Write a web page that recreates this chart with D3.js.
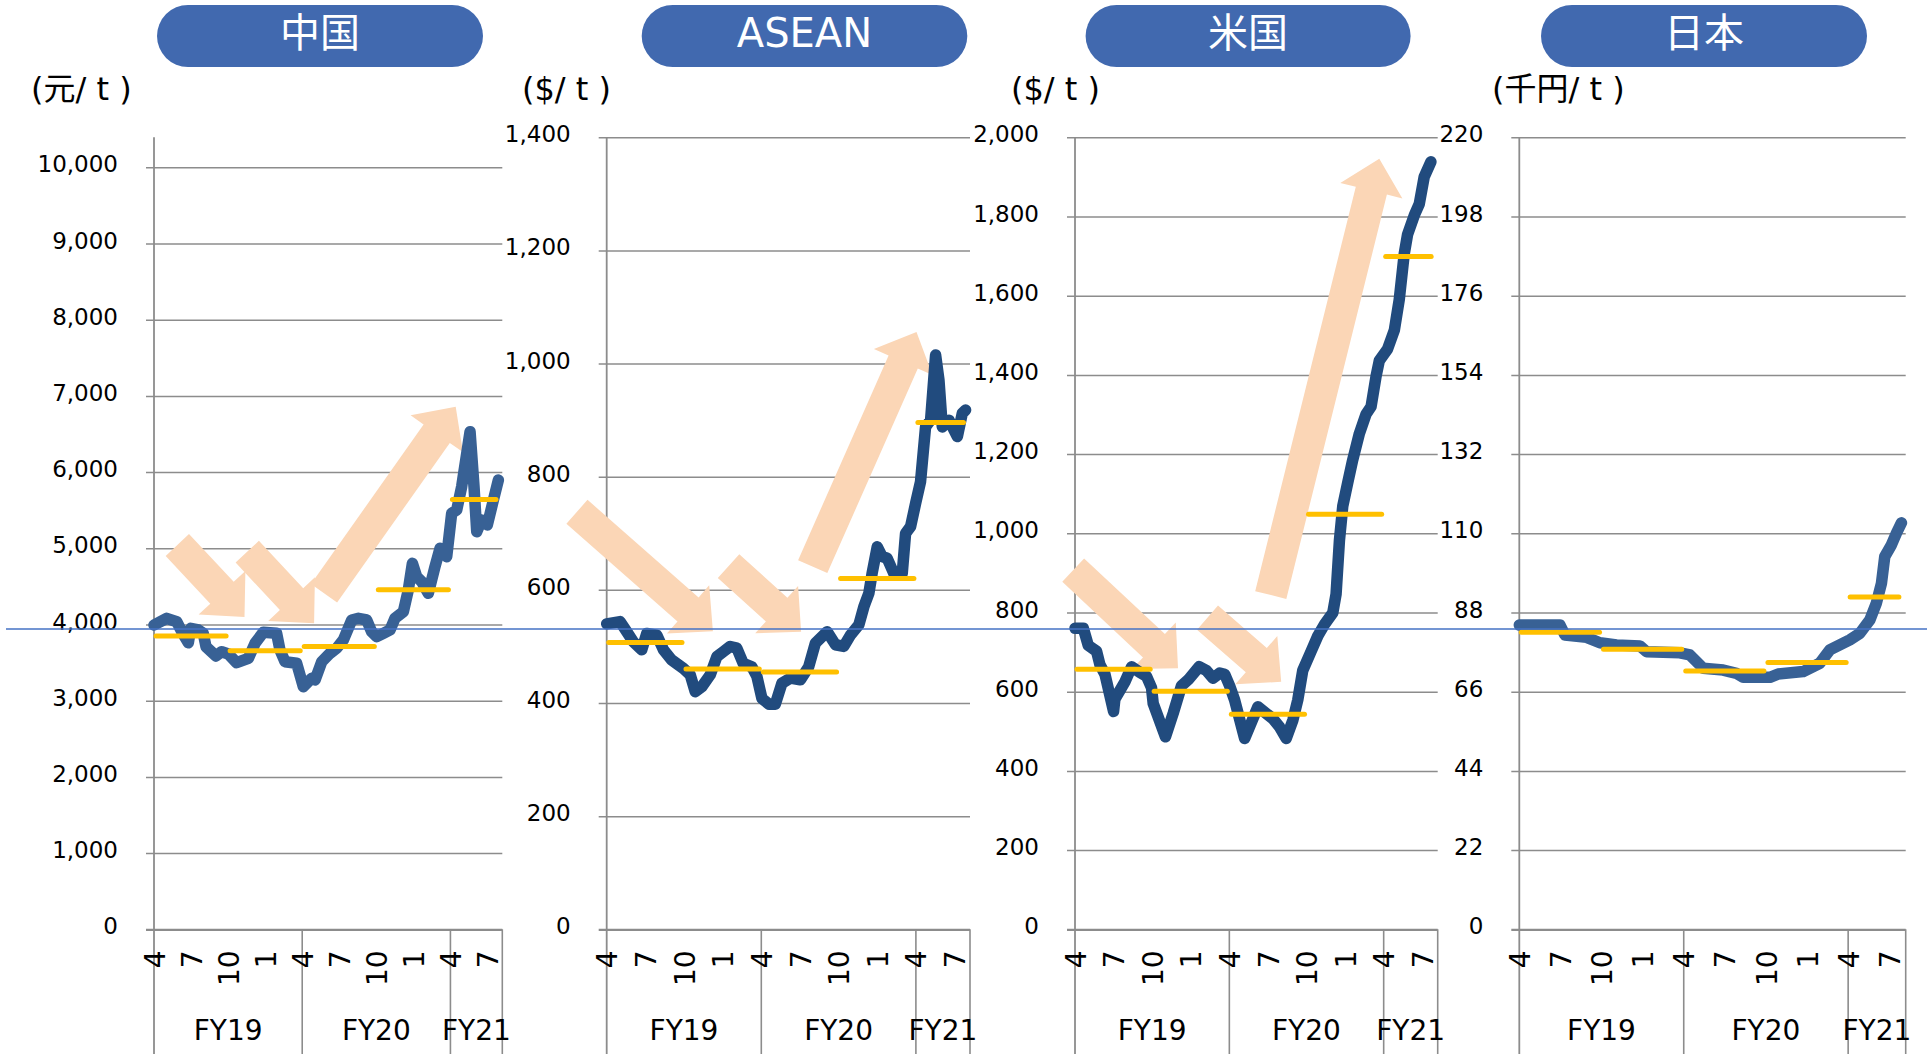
<!DOCTYPE html>
<html>
<head>
<meta charset="utf-8">
<script src="https://cdn.jsdelivr.net/npm/d3@7"></script>
<style>
  html, body { margin: 0; padding: 0; background: #ffffff; }
  svg { display: block; }
</style>
</head>
<body>
<svg id="chart" width="1930" height="1054"></svg>
<script>
// ---- data: [months since April 2019, price] ----
const chinaPrice = [
  [0,3993],[1.03,4081],[1.84,4037],[2.32,3884],[2.78,3761],[2.97,3950],[3.59,3928],[3.99,3884],
  [4.21,3709],[5.02,3587],[5.48,3643],[6.02,3613],[6.69,3499],[7.64,3556],[8.18,3753],[8.85,3898],
  [9.93,3884],[10.2,3665],[10.61,3512],[11.55,3491],[12.09,3184],[12.77,3294],[13.04,3272],[13.58,3512],
  [14.25,3622],[14.79,3688],[15.33,3797],[16.01,4059],[16.55,4081],[17.22,4059],[17.62,3906],[18.03,3840],
  [18.57,3884],[19.11,3928],[19.51,4081],[20.19,4168],[20.59,4453],[20.92,4803],[21.27,4627],[21.67,4562],
  [22.21,4409],[22.75,4759],[23.16,5000],[23.7,4890],[24.1,5459],[24.51,5503],[24.91,5808],[25.59,6530],
  [25.91,5808],[26.13,5218],[26.53,5371],[26.99,5306],[27.48,5634],[27.88,5896]
];
const aseanPrice = [
  [0,540],[1.04,544],[1.56,526],[2.07,508],[2.72,494],[3.11,523],[3.89,520],[4.41,494],[5.05,476],
  [5.96,461],[6.48,450],[6.87,420],[7.39,429],[8.04,450],[8.55,482],[9.07,491],[9.59,500],[10.1,497],
  [10.6,470],[11.27,464],[11.66,447],[12.05,408],[12.6,398],[13.09,398],[13.6,435],[14.26,444],[15.03,441],
  [15.68,464],[16.2,506],[17.11,526],[17.76,503],[18.4,500],[18.92,520],[19.57,538],[19.96,570],[20.35,594],
  [20.6,629],[21.0,676],[21.38,659],[21.77,656],[22.29,629],[22.94,629],[23.2,700],[23.59,712],[23.98,753],
  [24.36,791],[24.75,888],[25.14,900],[25.53,1015],[25.79,971],[26.05,888],[26.57,900],[27.22,871],
  [27.6,912],[27.86,918]
];
const usPrice = [
  [0,760],[0.65,760],[1.03,717],[1.68,702],[1.94,668],[2.33,644],[3.0,550],[3.1,581],[3.88,625],
  [4.4,663],[5.03,649],[5.56,639],[5.95,610],[6.08,570],[7.03,486],[7.63,545],[8.28,615],[8.8,630],
  [9.65,663],[10.2,654],[10.73,634],[11.25,647],[11.64,644],[12.02,615],[12.41,579],[13.19,482],
  [14.22,562],[14.87,545],[15.38,532],[15.9,511],[16.42,482],[16.94,528],[17.32,579],[17.71,654],
  [18.36,702],[18.88,741],[19.4,770],[20.04,799],[20.3,847],[20.56,982],[20.82,1069],[21.2,1127],
  [21.59,1185],[22.11,1252],[22.63,1301],[23.02,1320],[23.41,1397],[23.66,1436],[24.3,1465],[24.83,1513],
  [25.21,1590],[25.6,1706],[25.86,1755],[26.38,1803],[26.77,1832],[27.15,1900],[27.67,1938]
];
const japanPrice = [
  [0,84.5],[2.97,84.5],[3.33,81.75],[4.91,81.1],[5.88,79.6],[7.1,79.0],[8.8,78.7],[9.29,77.1],
  [11.72,76.8],[12.45,76.2],[13.42,72.5],[14.88,72.0],[15.85,71.1],[16.34,70.0],[18.29,70.0],
  [18.89,70.9],[20.72,71.6],[21.93,73.9],[22.66,77.6],[23.39,79.0],[24.12,80.4],[24.85,82.2],
  [25.58,85.9],[26.06,90.6],[26.43,96.1],[26.67,103.5],[27.16,106.8],[27.52,110.0],[27.89,112.9]
];

// half-year averages (1H FY19 ... 1H FY21)
const halfPeriods = [[0,6],[6,12],[12,18],[18,24],[24,27.85]];
const chinaAvg = [3850, 3655, 3710, 4457, 5640];
const aseanAvg = [507, 460, 455, 620, 896];
const usAvg    = [657, 601, 543, 1048, 1699];
const japanAvg = [82.5, 77.8, 71.75, 74.1, 92.3];

// trend arrows: [from, to] as [month, price]
const chinaArrows = [[[1.89,5043],[7.33,4100]], [[7.55,4955],[12.96,4016]], [[13.77,4409],[24.43,6858]]];
const aseanArrows = [[[-2.31,738],[8.24,527]], [[9.46,642],[15.09,526]], [[15.99,641],[24.05,1056]]];
const usArrows    = [[[-0.14,907],[8.01,659]], [[10.3,787],[16.03,625]], [[15.22,844],[23.66,1946]]];

// axis ticks
const chinaTicks = [0,1000,2000,3000,4000,5000,6000,7000,8000,9000,10000];
const aseanTicks = [0,200,400,600,800,1000,1200,1400];
const usTicks    = [0,200,400,600,800,1000,1200,1400,1600,1800,2000];
const japanTicks = [0,22,44,66,88,110,132,154,176,198,220];

const monthTicks  = [0,3,6,9,12,15,18,21,24,27];
const monthLabels = ["4","7","10","1","4","7","10","1","4","7"];
const fyLabels = ["FY19","FY20","FY21"];
const fyBounds = [0,12,24,28.2];
const monthSpan = [0, 28.2];

// ---- layout ----
const FONT = "'DejaVu Sans', 'Noto Sans CJK JP', sans-serif";
const plotTop = 137.3, plotBottom = 929.3, figBottom = 1054;
const gridColor = "#8c8c8c";
const arrowFill = "#fbd6b6";
const avgColor = "#ffc000";

const panels = [
  { title: "中国",  unit: "(元/ t )",  unitX: 31,   pill: [157, 483],     x0: 154,    x1: 502.3,
    yMax: 10000, yTopPx: 167.3, ticks: chinaTicks, series: chinaPrice, avg: chinaAvg, arrows: chinaArrows, color: "#386195" },
  { title: "ASEAN", unit: "($/ t )",  unitX: 522,  pill: [641.7, 967.3], x0: 606.7,  x1: 970,
    yMax: 1400, yTopPx: plotTop, ticks: aseanTicks, series: aseanPrice, avg: aseanAvg, arrows: aseanArrows, color: "#214b7e" },
  { title: "米国",  unit: "($/ t )",  unitX: 1011, pill: [1085.6, 1410.6], x0: 1075, x1: 1437.7,
    yMax: 2000, yTopPx: plotTop, ticks: usTicks, series: usPrice, avg: usAvg, arrows: usArrows, color: "#214b7e" },
  { title: "日本",  unit: "(千円/ t )", unitX: 1492, pill: [1541, 1867],   x0: 1519.3, x1: 1905.7,
    yMax: 220, yTopPx: plotTop, ticks: japanTicks, series: japanPrice, avg: japanAvg, arrows: [], color: "#386195" }
];

const svg = d3.select("#chart");
svg.append("rect").attr("width", 1930).attr("height", 1054).attr("fill", "#ffffff");

// block arrow polygon in pixel space
function arrowPath(p0, p1, bodyHalf, headHalf, headLen) {
  const dx = p1[0] - p0[0], dy = p1[1] - p0[1];
  const len = Math.hypot(dx, dy);
  const ux = dx / len, uy = dy / len;
  const nx = -uy, ny = ux;
  const neck = [p1[0] - ux * headLen, p1[1] - uy * headLen];
  const pts = [
    [p0[0] + nx * bodyHalf, p0[1] + ny * bodyHalf],
    [neck[0] + nx * bodyHalf, neck[1] + ny * bodyHalf],
    [neck[0] + nx * headHalf, neck[1] + ny * headHalf],
    p1,
    [neck[0] - nx * headHalf, neck[1] - ny * headHalf],
    [neck[0] - nx * bodyHalf, neck[1] - ny * bodyHalf],
    [p0[0] - nx * bodyHalf, p0[1] - ny * bodyHalf]
  ];
  return "M" + pts.map(p => p[0].toFixed(1) + "," + p[1].toFixed(1)).join("L") + "Z";
}

panels.forEach(p => {
  const g = svg.append("g");
  const x = d3.scaleLinear().domain(monthSpan).range([p.x0, p.x1]);
  const y = d3.scaleLinear().domain([0, p.yMax]).range([plotBottom, p.yTopPx]);
  const plotW = p.x1 - p.x0;

  // title pill
  g.append("rect")
    .attr("x", p.pill[0]).attr("y", 5)
    .attr("width", p.pill[1] - p.pill[0]).attr("height", 62)
    .attr("rx", 31).attr("ry", 31)
    .attr("fill", "#4169af");
  g.append("text")
    .attr("x", (p.pill[0] + p.pill[1]) / 2).attr("y", 46.5)
    .attr("text-anchor", "middle")
    .attr("font-family", FONT).attr("font-size", 40)
    .attr("fill", "#ffffff")
    .text(p.title);

  // unit label
  g.append("text")
    .attr("x", p.unitX).attr("y", 100)
    .attr("font-family", FONT).attr("font-size", 32)
    .attr("fill", "#000")
    .text(p.unit);

  // y axis with gridlines
  const yAxis = g.append("g")
    .attr("transform", `translate(${p.x0},0)`)
    .call(d3.axisLeft(y).tickValues(p.ticks).tickFormat(d3.format(","))
      .tickSizeInner(-plotW).tickSizeOuter(0).tickPadding(36));
  yAxis.select(".domain").remove();
  yAxis.selectAll(".tick line")
    .attr("x1", -8).attr("x2", plotW)
    .attr("stroke", gridColor)
    .attr("stroke-width", d => d === 0 ? 2.2 : 1.5);
  yAxis.selectAll(".tick text")
    .attr("font-family", FONT).attr("font-size", 23)
    .attr("fill", "#000")
    .attr("dy", null).attr("y", 4.5)
    .attr("dominant-baseline", "alphabetic");

  // vertical axis line and category separators
  g.append("line")
    .attr("x1", p.x0).attr("x2", p.x0)
    .attr("y1", plotTop).attr("y2", figBottom)
    .attr("stroke", gridColor).attr("stroke-width", 1.8);
  fyBounds.slice(1).forEach(b => {
    g.append("line")
      .attr("x1", x(b)).attr("x2", x(b))
      .attr("y1", plotBottom).attr("y2", figBottom)
      .attr("stroke", gridColor).attr("stroke-width", 1.6);
  });

  // month labels
  const xAxis = g.append("g")
    .attr("transform", `translate(0,${plotBottom})`)
    .call(d3.axisBottom(x).tickValues(monthTicks)
      .tickFormat((d, i) => monthLabels[i]).tickSize(0));
  xAxis.select(".domain").remove();
  xAxis.selectAll(".tick text")
    .attr("transform", "rotate(-90)")
    .attr("x", -21).attr("y", 0).attr("dy", "0.36em")
    .attr("text-anchor", "end")
    .attr("font-family", FONT).attr("font-size", 28)
    .attr("fill", "#000");

  // fiscal year labels
  fyLabels.forEach((lab, i) => {
    g.append("text")
      .attr("x", (x(fyBounds[i]) + x(fyBounds[i + 1])) / 2).attr("y", 1040)
      .attr("text-anchor", "middle")
      .attr("font-family", FONT).attr("font-size", 28)
      .attr("fill", "#000")
      .text(lab);
  });

  // trend arrows
  g.selectAll("path.trend")
    .data(p.arrows)
    .join("path")
    .attr("class", "trend")
    .attr("d", a => arrowPath([x(a[0][0]), y(a[0][1])], [x(a[1][0]), y(a[1][1])], 16, 32, 33))
    .attr("fill", arrowFill);

  // price line
  g.append("path")
    .datum(p.series)
    .attr("d", d3.line().x(d => x(d[0])).y(d => y(d[1])))
    .attr("fill", "none")
    .attr("stroke", p.color)
    .attr("stroke-width", 11.5)
    .attr("stroke-linejoin", "round")
    .attr("stroke-linecap", "round");

  // half-year averages
  g.selectAll("line.avg")
    .data(p.avg)
    .join("line")
    .attr("class", "avg")
    .attr("x1", (d, i) => x(halfPeriods[i][0]) + 2)
    .attr("x2", (d, i) => x(halfPeriods[i][1]) - 2)
    .attr("y1", d => y(d)).attr("y2", d => y(d))
    .attr("stroke", avgColor)
    .attr("stroke-width", 5)
    .attr("stroke-linecap", "round");
});

// reference rule across the figure
svg.append("line")
  .attr("x1", 6).attr("x2", 1927)
  .attr("y1", 629).attr("y2", 629)
  .attr("stroke", "#4472c4").attr("stroke-width", 1.6);
</script>
</body>
</html>
